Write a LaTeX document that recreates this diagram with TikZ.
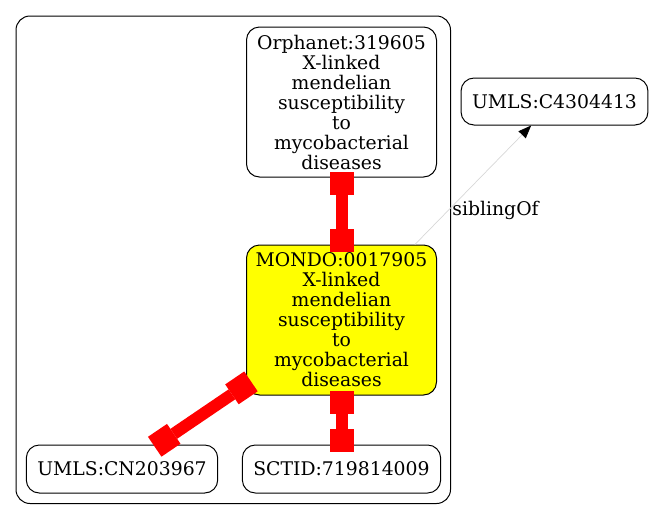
\documentclass[tikz,border=0pt]{standalone}
\usepackage{fontspec}
\setmainfont{DejaVu Serif}
\usetikzlibrary{arrows.meta}
\definecolor{gvyellow}{RGB}{255,255,0}
\definecolor{gvred}{RGB}{255,0,0}
\definecolor{gvgrey}{RGB}{215,215,215}
\begin{document}
\begin{tikzpicture}[x=1pt,y=-1pt,
  every node/.style={font=\fontsize{18.8}{20}\selectfont},
  termbox/.style={draw=black, line width=1pt, rounded corners=13pt, align=center, inner xsep=11pt, inner ysep=0pt},
  bigbox/.style={termbox, inner xsep=6pt, minimum width=190pt, minimum height=150pt},
  smallbox/.style={termbox, minimum height=48pt},
  redlink/.style={draw=gvred, line width=12pt, {Square[length=23pt,width=24pt,line width=0pt]}-{Square[length=23pt,width=24pt,line width=0pt]}},
  siblink/.style={draw=gvgrey, line width=0.7pt, -{Triangle[length=13pt,width=10pt,color=black,fill=black]}},
  lbl/.style={anchor=base, inner sep=0pt}
]
\useasboundingbox (0,0) rectangle (653,520);
\draw[line width=1pt, rounded corners=14pt] (16,16) rectangle (450.5,503.5);

\node[bigbox] (orph) at (341.5,102) {Orphanet:319605\\X-linked\\mendelian\\susceptibility\\to\\mycobacterial\\diseases};
\node[bigbox, fill=gvyellow] (mondo) at (341.5,320) {MONDO:0017905\\X-linked\\mendelian\\susceptibility\\to\\mycobacterial\\diseases};
\node[smallbox] (cn) at (122,469) {UMLS:CN203967};
\node[smallbox] (sct) at (341.5,469) {SCTID:719814009};
\node[smallbox, minimum height=47pt] (c44) at (554.5,101.5) {UMLS:C4304413};

\draw[redlink, shorten <=-6pt, shorten >=-7pt] (orph.south) -- (mondo.north);
\draw[redlink, shorten <=-5pt, shorten >=-7pt] (mondo.south) -- (mondo.south |- sct.north);
\draw[redlink, shorten <=-6pt, shorten >=-4pt] (mondo) -- (cn);
\draw[siblink] (mondo) -- (c44);
\node[lbl] (sib) at (495.5,215) {siblingOf};
\end{tikzpicture}
\end{document}
